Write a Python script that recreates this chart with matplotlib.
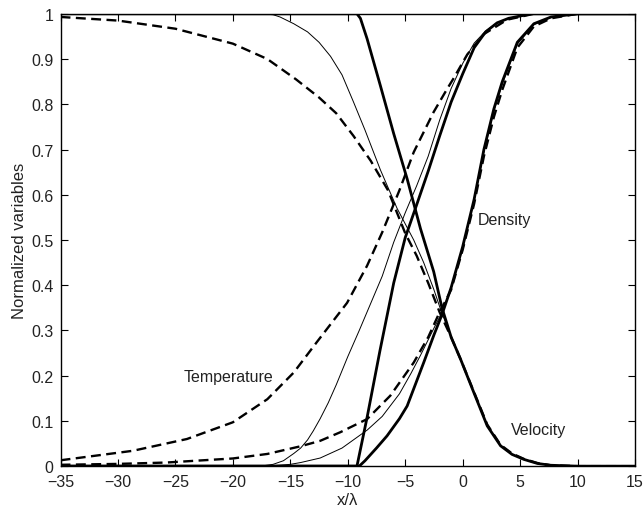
import matplotlib
matplotlib.use("Agg")
import matplotlib.pyplot as plt
import numpy as np

plt.rcParams['font.family'] = ['Liberation Sans', 'DejaVu Sans']

# velocity (falling)
vel_thick_x = [-35, -9.2, -8.9, -8.32, -7.16, -6.0, -4.83, -3.67, -2.52, -1.8, -1.0, -0.19, 0.97, 2.14, 3.3, 4.3, 5.33, 6.5, 7.66, 10, 15]
vel_thick_y = [1, 1, 0.99, 0.945, 0.841, 0.735, 0.635, 0.525, 0.43, 0.35, 0.285, 0.237, 0.163, 0.089, 0.045, 0.026, 0.015, 0.006, 0.002, 0, 0]
vel_thin_x = [-35, -17.5, -16.5, -15.9, -14.7, -13.5, -12.5, -11.5, -10.5, -9.5, -8.5, -7.16, -5.71, -4.26, -3.39, -2.5, -1.9, -1.0, -0.19, 0.97, 2.14, 3.3, 4.3, 5.33, 6.5, 7.66, 10, 15]
vel_thin_y = [1, 1, 0.998, 0.993, 0.978, 0.96, 0.937, 0.906, 0.865, 0.805, 0.743, 0.655, 0.57, 0.50, 0.45, 0.39, 0.345, 0.285, 0.237, 0.163, 0.089, 0.045, 0.026, 0.015, 0.006, 0.002, 0, 0]
vel_dash_x = [-35, -30, -25, -20, -17, -14.5, -12.5, -11, -9.5, -8, -6.5, -5, -4, -3, -2, -1.0, -0.19, 0.97, 2.14, 3.3, 4.3, 5.33, 6.5, 7.66, 10, 15]
vel_dash_y = [0.993, 0.985, 0.967, 0.934, 0.90, 0.855, 0.815, 0.78, 0.73, 0.675, 0.61, 0.515, 0.465, 0.405, 0.34, 0.285, 0.237, 0.165, 0.092, 0.047, 0.028, 0.016, 0.007, 0.002, 0, 0]

# temperature (rising, left group)
temp_thick_x = [-35, -9.2, -8.3, -7.2, -6.0, -5.0, -4.0, -3.0, -2.0, -1.0, 0.0, 1.0, 2.0, 3.0, 4.0, 6.0, 15]
temp_thick_y = [0, 0, 0.11, 0.255, 0.405, 0.505, 0.578, 0.652, 0.73, 0.805, 0.867, 0.925, 0.96, 0.98, 0.99, 1, 1]
temp_thin_x = [-35, -17.6, -16.5, -15.6, -14.7, -14.1, -13.5, -13.0, -12.4, -11.7, -11, -10, -9, -8, -7, -6, -5, -4, -3, -2, -1, 0, 1, 2, 3, 4, 6, 15]
temp_thin_y = [0, 0, 0.004, 0.012, 0.028, 0.04, 0.058, 0.078, 0.105, 0.14, 0.18, 0.242, 0.30, 0.36, 0.42, 0.495, 0.56, 0.62, 0.685, 0.765, 0.835, 0.89, 0.935, 0.962, 0.98, 0.99, 1, 1]
temp_dash_x = [-35, -28.7, -24, -20, -17, -14.7, -12.7, -10.06, -8.32, -7.0, -5.5, -4.26, -2.52, -1.35, -0.77, 0.4, 1.84, 3.88, 6.2, 15]
temp_dash_y = [0.013, 0.034, 0.06, 0.097, 0.148, 0.207, 0.274, 0.361, 0.443, 0.517, 0.61, 0.694, 0.783, 0.834, 0.858, 0.91, 0.955, 0.987, 1, 1]

# density (rising, right group)
dens_thick_x = [-35, -9.0, -8.5, -7.5, -6.58, -5.5, -4.83, -3.39, -2.5, -1.8, -1.0, 0.0, 1.0, 1.85, 2.72, 3.45, 4.76, 6.2, 7.7, 10, 15]
dens_thick_y = [0, 0, 0.012, 0.04, 0.067, 0.105, 0.133, 0.229, 0.29, 0.335, 0.395, 0.485, 0.59, 0.70, 0.79, 0.85, 0.937, 0.978, 0.993, 1, 1]
dens_thin_x = [-35, -17, -15, -14.1, -12.4, -10.5, -8.3, -7, -5.5, -4.5, -3.67, -2.5, -1.9, -1.0, 0.0, 1.0, 1.85, 2.72, 3.45, 4.76, 6.2, 7.7, 10, 15]
dens_thin_y = [0, 0, 0.004, 0.008, 0.018, 0.04, 0.08, 0.11, 0.16, 0.205, 0.245, 0.305, 0.335, 0.393, 0.482, 0.587, 0.695, 0.785, 0.845, 0.933, 0.976, 0.992, 1, 1]
dens_dash_x = [-35, -30, -25.8, -20, -17, -14.1, -12.4, -10.65, -8.32, -6.29, -4.26, -3.0, -2.1, -1.0, 0.0, 1.0, 1.85, 2.72, 3.45, 4.76, 6.2, 7.7, 10, 15]
dens_dash_y = [0.003, 0.005, 0.008, 0.017, 0.027, 0.044, 0.056, 0.075, 0.104, 0.156, 0.229, 0.285, 0.335, 0.39, 0.478, 0.58, 0.685, 0.772, 0.832, 0.925, 0.972, 0.99, 1, 1]

labels = ["Temperature", "Density", "Velocity"]
label_pos = [(-24.3, 0.198), (1.3, 0.546), (4.2, 0.082)]

fig = plt.figure(figsize=(6.44, 5.10), dpi=100)
ax = fig.add_axes([0.094, 0.084, 0.892, 0.887])

thick = dict(color='black', lw=2.0, solid_capstyle='butt')
thin = dict(color='black', lw=0.7)
dash = dict(color='black', lw=1.7, dashes=(4.2, 2.3))

for xs, ys in [(vel_thick_x, vel_thick_y), (temp_thick_x, temp_thick_y), (dens_thick_x, dens_thick_y)]:
    ax.plot(xs, ys, **thick)
for xs, ys in [(vel_thin_x, vel_thin_y), (temp_thin_x, temp_thin_y), (dens_thin_x, dens_thin_y)]:
    ax.plot(xs, ys, **thin)
for xs, ys in [(vel_dash_x, vel_dash_y), (temp_dash_x, temp_dash_y), (dens_dash_x, dens_dash_y)]:
    ax.plot(xs, ys, **dash)

for txt, (tx, ty) in zip(labels, label_pos):
    ax.text(tx, ty, txt, fontsize=11.5, color='#222222', ha='left', va='center')

ax.set_xlim(-35, 15)
ax.set_ylim(0, 1)
ax.set_xticks(np.arange(-35, 16, 5))
ax.set_yticks(np.arange(0, 1.01, 0.1))
ax.set_yticklabels(['0', '0.1', '0.2', '0.3', '0.4', '0.5', '0.6', '0.7', '0.8', '0.9', '1'])
ax.tick_params(direction='in', top=True, right=True, length=5, width=0.8,
               labelsize=11.5, labelcolor='#222222')
ax.tick_params(axis='x', pad=6)
ax.tick_params(axis='y', pad=5)
for s in ax.spines.values():
    s.set_linewidth(1.0)
ax.set_xlabel('x/λ', fontsize=12, color='#222222', labelpad=2)
ax.set_ylabel('Normalized variables', fontsize=12, color='#222222', labelpad=3)

fig.savefig('out.png', dpi=100)
